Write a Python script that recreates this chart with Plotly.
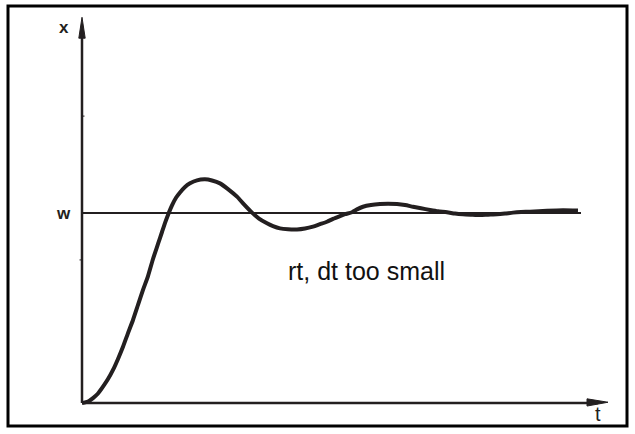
import plotly.graph_objects as go

# Step response of a control loop: controlled variable x over time t,
# oscillating around the set point w (reset / derivative time too small)
t_vals = [0.00, 0.06, 0.11, 0.16, 0.21, 0.26, 0.31, 0.36, 0.41, 0.46, 0.51,
          0.56, 0.61, 0.66, 0.71, 0.76, 0.80, 0.835, 0.86, 0.90, 0.94, 0.98,
          1.03, 1.08, 1.15, 1.23, 1.30, 1.38, 1.46, 1.55, 1.62, 1.70, 1.77,
          1.85, 1.91, 1.98, 2.06, 2.15, 2.23, 2.31, 2.38, 2.45, 2.51, 2.58,
          2.63, 2.70, 2.75, 2.81, 2.89, 2.98, 3.06, 3.15, 3.23, 3.31, 3.39,
          3.48, 3.56, 3.65, 3.73, 3.81, 3.89, 3.98, 4.06, 4.15, 4.23, 4.31,
          4.39, 4.48, 4.65, 4.81, 4.96]
x_vals = [0.000, 0.008, 0.026, 0.050, 0.086, 0.126, 0.174, 0.232, 0.296, 0.368,
          0.437, 0.516, 0.595, 0.668, 0.758, 0.837, 0.900, 0.955, 0.990, 1.040,
          1.080, 1.108, 1.137, 1.156, 1.172, 1.177, 1.171, 1.156, 1.126, 1.086,
          1.045, 1.002, 0.971, 0.946, 0.931, 0.919, 0.914, 0.913, 0.918, 0.928,
          0.941, 0.954, 0.969, 0.984, 0.994, 1.004, 1.019, 1.033, 1.042, 1.047,
          1.049, 1.047, 1.042, 1.033, 1.025, 1.016, 1.009, 1.004, 0.997, 0.993,
          0.991, 0.989, 0.991, 0.993, 0.997, 1.002, 1.005, 1.007, 1.012, 1.015,
          1.013]

w_level = 1.0
w_t_end = 4.99
y_ticks = [1.51, 0.753]
t_axis_end = 5.26
x_axis_end = 2.03

caption = "rt, dt too small"
INK = "#231f20"

W, H = 635, 434
# 100 px per unit of t, 190 px per unit of x; origin at pixel (82, 403)
x_range = [-0.82, (W - 82) / 100]
y_range = [(403 - H) / 190, 403 / 190]

fig = go.Figure()

fig.add_trace(go.Scatter(
    x=[0, w_t_end], y=[w_level, w_level], mode="lines",
    line=dict(color=INK, width=1.8), hoverinfo="skip"))

fig.add_trace(go.Scatter(
    x=t_vals, y=x_vals, mode="lines",
    line=dict(color=INK, width=4, shape="spline", smoothing=0.6),
    hoverinfo="skip"))

shapes = []
# axes
shapes.append(dict(type="line", xref="x", yref="y", x0=0, y0=0, x1=0,
                   y1=x_axis_end - 0.05, line=dict(color=INK, width=2.5)))
shapes.append(dict(type="line", xref="x", yref="y", x0=0, y0=0,
                   x1=t_axis_end - 0.1, y1=0, line=dict(color=INK, width=2.5)))
# arrow heads
shapes.append(dict(type="path", xref="x", yref="y",
                   path=f"M 0,{x_axis_end} L -0.032,{x_axis_end - 0.11} "
                        f"L 0.032,{x_axis_end - 0.11} Z",
                   fillcolor=INK, line=dict(color=INK, width=1)))
shapes.append(dict(type="path", xref="x", yref="y",
                   path=f"M {t_axis_end},0.004 L {t_axis_end - 0.21},0.022 "
                        f"L {t_axis_end - 0.21},-0.016 Z",
                   fillcolor=INK, line=dict(color=INK, width=1)))
# small tick marks on the x axis
shapes.append(dict(type="line", xref="x", yref="y", x0=0, x1=0.025,
                   y0=y_ticks[0], y1=y_ticks[0], line=dict(color=INK, width=1)))
shapes.append(dict(type="line", xref="x", yref="y", x0=-0.025, x1=0,
                   y0=y_ticks[1], y1=y_ticks[1], line=dict(color=INK, width=1)))
# frame
shapes.append(dict(type="rect", xref="paper", yref="paper",
                   x0=8 / W, x1=627 / W, y0=1 - 426 / H, y1=1 - 6 / H,
                   line=dict(color="black", width=3)))

annotations = [
    dict(x=-0.18, y=1.978, xref="x", yref="y", text="<b>x</b>", showarrow=False,
         font=dict(family="Liberation Sans", size=17, color=INK)),
    dict(x=-0.185, y=w_level, xref="x", yref="y", text="<b>w</b>", showarrow=False,
         font=dict(family="Liberation Sans", size=17, color=INK)),
    dict(x=5.16, y=-0.058, xref="x", yref="y", text="t", showarrow=False,
         font=dict(family="Liberation Sans", size=20, color=INK)),
    dict(x=2.84, y=0.695, xref="x", yref="y", text=caption, showarrow=False,
         font=dict(family="Liberation Sans", size=25, color="#111111")),
]

fig.update_layout(
    width=W, height=H, margin=dict(l=0, r=0, t=0, b=0),
    paper_bgcolor="white", plot_bgcolor="white", showlegend=False,
    xaxis=dict(range=x_range, visible=False, fixedrange=True),
    yaxis=dict(range=y_range, visible=False, fixedrange=True),
    shapes=shapes, annotations=annotations,
)

fig.write_html("out.html")
